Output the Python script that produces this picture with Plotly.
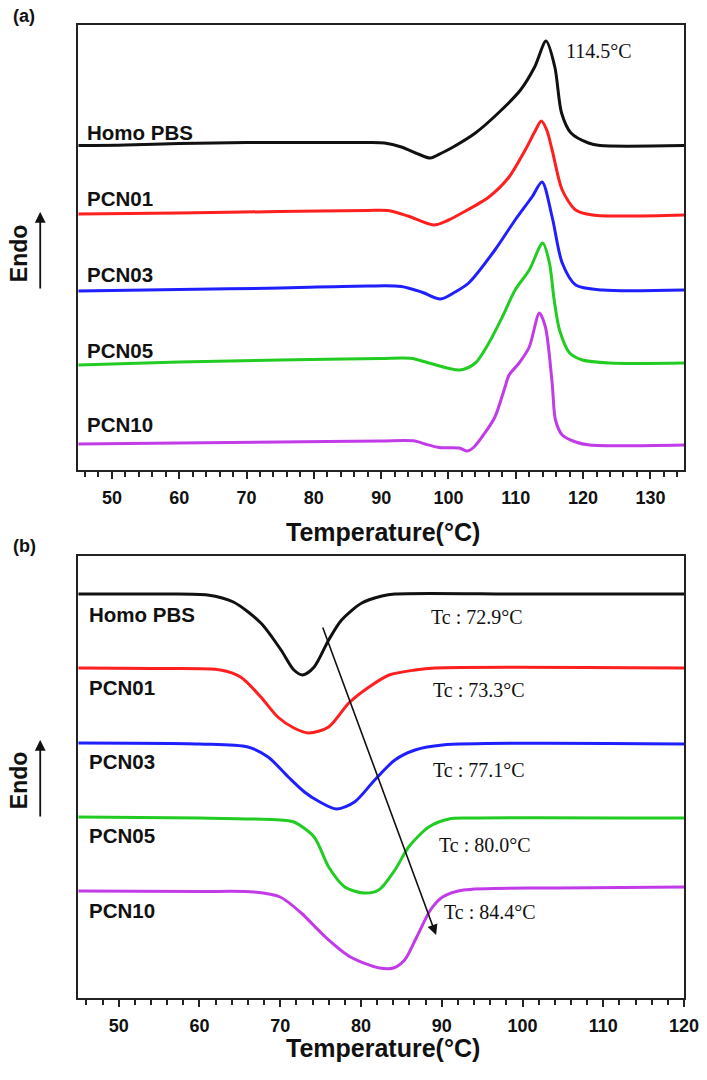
import plotly.graph_objects as go

# ---------------- Panel (a): heating scans (Endo up, a.u.) ----------------
a_black_T = [45, 52, 60, 70, 80, 88, 90.5, 93, 95.5, 97.3, 99, 100.7, 104, 107.4, 110.7, 112.8, 114.5, 115.8, 116.8, 118.2, 120.8, 122.5, 135]
a_black_y = [324.5, 325, 326.5, 327.5, 327.5, 327.5, 327, 323, 316, 312, 317, 323, 337, 357, 380, 403, 429, 403, 357, 337, 327, 324.5, 324.5]

a_red_T = [45, 60, 75, 88, 91, 94, 97.8, 100, 102, 106, 109, 111.4, 112.8, 113.8, 114.6, 115.4, 116.9, 118.9, 121.4, 135]
a_red_y = [256, 257, 258.5, 259.5, 259.5, 254, 245, 250, 257, 273, 293, 320, 338, 349, 340, 320, 280, 260, 255, 255]

a_blue_T = [45, 60, 75, 88, 93, 96, 98.8, 101, 103, 106.9, 109.9, 112.4, 113.9, 115.4, 116.9, 118.9, 122.9, 135]
a_blue_y = [179, 180.5, 182, 184, 183.5, 178, 171, 178, 187, 220, 250, 273, 288, 253, 207, 185, 180, 180]

a_green_T = [45, 60, 75, 90, 94.6, 97.1, 101.7, 104, 106, 108, 109.9, 112, 114, 115, 115.7, 116.5, 118, 119.9, 123.9, 135]
a_green_y = [105, 108, 110, 111.5, 111.5, 107, 100, 107, 127, 153, 180, 200, 227, 207, 170, 140, 117, 110, 107, 107]

a_mag_T = [45, 60, 75, 90, 95, 96.5, 98.6, 101.6, 102.8, 103.8, 105.4, 106.9, 108.4, 109.0, 110.5, 112.0, 113.5, 114.4, 115.4, 115.9, 116.9, 118.9, 121, 135]
a_mag_y = [26, 27, 28, 29, 29, 26, 22.5, 22, 19, 23, 37, 53, 83, 95, 107, 123, 157, 143, 87, 50, 35, 28, 25, 25]

# ---------------- Panel (b): cooling scans ----------------
b_black_T = [45, 55, 61, 64.2, 67.6, 70.1, 71.7, 72.8, 74.2, 76.0, 77.6, 80.1, 82.6, 84.2, 100, 120]
b_black_y = [404, 404, 403, 396, 375, 348, 328, 323, 331, 358, 378, 395, 402, 404, 404, 404]

b_red_T = [45, 55, 62.6, 65.1, 67.6, 69.7, 71.7, 73.5, 76.0, 78.5, 81.0, 83.5, 86.7, 89.2, 120]
b_red_y = [330, 329.5, 328, 321, 301, 281, 270, 265, 271, 295, 311, 323, 328, 330, 330]

b_blue_T = [45, 60, 66.0, 68.5, 71.0, 73.0, 74.7, 77.0, 79.2, 81.7, 84.2, 86.7, 90.1, 120]
b_blue_y = [255, 254, 251, 241, 221, 206, 197, 189, 196, 218, 238, 248, 253, 254]

b_green_T = [45, 60, 70, 71.7, 74.2, 76.0, 78.0, 80.3, 82.2, 84.2, 85.9, 88.4, 90.9, 93.4, 120]
b_green_y = [181, 180, 178, 176, 161, 131, 111, 105, 108, 128, 151, 171, 179, 180, 180]

b_mag_T = [45, 60, 66.8, 70.0, 72.6, 75.6, 78.7, 82.3, 84.0, 85.4, 86.9, 88.6, 90.1, 92.7, 104.6, 120]
b_mag_y = [107, 106.5, 106, 101, 85, 61, 41, 30, 30, 38, 61, 88, 101, 108, 110, 111]

sample_names = ["Homo PBS", "PCN01", "PCN03", "PCN05", "PCN10"]
colors = ["#111111", "#ff1f1f", "#1f1fff", "#22cc22", "#c23be8"]

a_label_y = [338, 272, 196, 120, 46]
b_label_y = [384, 311, 237, 163, 88]

tc_text = ["Tc : 72.9°C", "Tc : 73.3°C", "Tc : 77.1°C", "Tc : 80.0°C", "Tc : 84.4°C"]
tc_x = [94.4, 94.6, 94.6, 95.4, 96.0]
tc_y = [381, 308, 228, 153, 86]

tm_text = "114.5°C"
tm_x, tm_y = 122.3, 419

arrow_start = (75.2, 372)
arrow_end = (89.3, 63)

a_curves = [(a_black_T, a_black_y), (a_red_T, a_red_y), (a_blue_T, a_blue_y),
            (a_green_T, a_green_y), (a_mag_T, a_mag_y)]
b_curves = [(b_black_T, b_black_y), (b_red_T, b_red_y), (b_blue_T, b_blue_y),
            (b_green_T, b_green_y), (b_mag_T, b_mag_y)]

fig = go.Figure()
for (T, y), c, n in zip(a_curves, colors, sample_names):
    fig.add_trace(go.Scatter(x=T, y=y, mode="lines", name=n, xaxis="x", yaxis="y",
                             line=dict(color=c, width=3, shape="spline", smoothing=0.8),
                             showlegend=False))
for (T, y), c, n in zip(b_curves, colors, sample_names):
    fig.add_trace(go.Scatter(x=T, y=y, mode="lines", name=n, xaxis="x2", yaxis="y2",
                             line=dict(color=c, width=3, shape="spline", smoothing=0.8),
                             showlegend=False))

# page offsets observed in the rendering environment
OFF = 8
SX = 0.9775
W, H = 707, 1056


def px(p):
    return (p / SX - OFF) / W


def py(p):
    return 1 - (p - OFF) / H


xdom = [px(78), px(683)]
ydom_a = [py(470), py(25)]
ydom_b = [py(998), py(556)]

tickfont = dict(family="Liberation Sans, Arial", size=18, color="#111", weight="bold")
common_x = dict(showline=True, mirror=True, linecolor="#222", linewidth=2,
                ticks="outside", ticklen=7, tickwidth=1.5, tickcolor="#222",
                dtick=10, showgrid=False, zeroline=False, tickfont=tickfont,
                ticklabelstandoff=3,
                minor=dict(dtick=2, ticks="outside", ticklen=5, tickwidth=1.5, tickcolor="#222"))
common_y = dict(showline=True, mirror=True, linecolor="#222", linewidth=2,
                ticks="", showticklabels=False, showgrid=False, zeroline=False)

annotations = []
lab_font = dict(family="Liberation Sans, Arial", size=20.5, color="#111")
serif_font = dict(family="Liberation Serif, Times New Roman", size=20, color="#111")

for n, ly in zip(sample_names, a_label_y):
    annotations.append(dict(x=46.0, y=ly, xref="x", yref="y", text="<b>" + n + "</b>",
                            showarrow=False, xanchor="left", yanchor="middle", font=lab_font))
for n, ly in zip(sample_names, b_label_y):
    annotations.append(dict(x=46.1, y=ly, xref="x2", yref="y2", text="<b>" + n + "</b>",
                            showarrow=False, xanchor="left", yanchor="middle", font=lab_font))
for t, tx, ty in zip(tc_text, tc_x, tc_y):
    annotations.append(dict(x=tx, y=ty, xref="x2", yref="y2", text=t, showarrow=False,
                            xanchor="center", yanchor="middle", font=serif_font))
annotations.append(dict(x=tm_x, y=tm_y, xref="x", yref="y", text=tm_text, showarrow=False,
                        xanchor="center", yanchor="middle", font=serif_font))
# trend arrow in (b)
annotations.append(dict(x=arrow_end[0], y=arrow_end[1], ax=arrow_start[0], ay=arrow_start[1],
                        xref="x2", yref="y2", axref="x2", ayref="y2", text="",
                        showarrow=True, arrowhead=2, arrowsize=1.3, arrowwidth=1.6,
                        arrowcolor="#111"))

title_font = dict(family="Liberation Sans, Arial", size=25, color="#111")
for ty, anch in [(532, "middle"), (1064, "bottom")]:
    annotations.append(dict(x=px(382), y=py(ty), xref="paper", yref="paper",
                            text="<b>Temperature(°C)</b>", showarrow=False,
                            xanchor="center", yanchor=anch, font=title_font))
# Endo labels and arrows
for cy, tail, head in [(253, 290, 212), (780, 818, 740)]:
    annotations.append(dict(x=px(19), y=py(cy), xref="paper", yref="paper",
                            text="<b>Endo</b>", showarrow=False, textangle=-90,
                            xanchor="center", yanchor="middle",
                            font=dict(family="Liberation Sans, Arial", size=23, color="#111")))
    annotations.append(dict(x=px(40), y=py(head), ax=0, ay=tail - head,
                            xref="paper", yref="paper", axref="pixel", ayref="pixel",
                            text="", showarrow=True, arrowhead=2, arrowsize=1.2,
                            arrowwidth=1.8, arrowcolor="#111"))
# panel letters
for t, pyy in [("(a)", 16), ("(b)", 546)]:
    annotations.append(dict(x=px(11), y=py(pyy), xref="paper", yref="paper",
                            text="<b>" + t + "</b>", showarrow=False,
                            xanchor="left", yanchor="middle",
                            font=dict(family="Liberation Sans, Arial", size=18, color="#111")))

fig.update_layout(
    width=W, height=H,
    margin=dict(l=0, r=0, t=0, b=0),
    paper_bgcolor="white", plot_bgcolor="white",
    xaxis=dict(domain=xdom, range=[45, 135], anchor="y", **common_x),
    yaxis=dict(domain=ydom_a, range=[0, 445], anchor="x", **common_y),
    xaxis2=dict(domain=xdom, range=[45, 120], anchor="y2", **common_x),
    yaxis2=dict(domain=ydom_b, range=[0, 442], anchor="x2", **common_y),
    annotations=annotations,
    showlegend=False,
)

fig.write_html("out.html")
